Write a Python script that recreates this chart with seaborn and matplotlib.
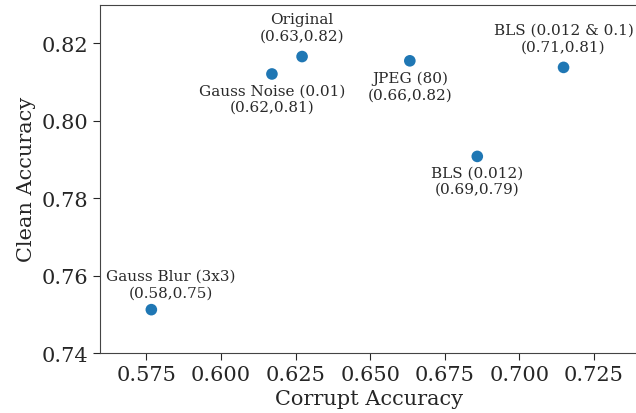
import matplotlib
matplotlib.use("Agg")
import matplotlib.pyplot as plt
import seaborn as sns
import pandas as pd

names = ["Original", "Gauss Noise (0.01)", "JPEG (80)", "BLS (0.012 & 0.1)", "BLS (0.012)", "Gauss Blur (3x3)"]
coord_labels = ["(0.63,0.82)", "(0.62,0.81)", "(0.66,0.82)", "(0.71,0.81)", "(0.69,0.79)", "(0.58,0.75)"]
corrupt_acc = [0.6272, 0.6171, 0.6633, 0.7148, 0.6859, 0.5767]
clean_acc = [0.8166, 0.8121, 0.8155, 0.8138, 0.7908, 0.7512]
label_offsets = [(0, 10), (0, -7), (0, -7), (0, 10), (0, -6.5), (14, 7.5)]

sns.set_style("ticks")
plt.rcParams["font.family"] = ["DejaVu Serif"]

df = pd.DataFrame({"Corrupt Accuracy": corrupt_acc, "Clean Accuracy": clean_acc, "name": names})

fig = plt.figure(figsize=(6.36, 4.14), dpi=100)
ax = fig.add_axes([100/636, 60/414, 1 - 100/636 + 0.002, (354 - 5.7)/414])
sns.scatterplot(data=df, x="Corrupt Accuracy", y="Clean Accuracy", ax=ax, s=70,
                color="#1f77b4", edgecolor="none")

for n, c, x, y, (dx, dy) in zip(names, coord_labels, corrupt_acc, clean_acc, label_offsets):
    va = "bottom" if dy > 0 else "top"
    ax.annotate(f"{n}\n{c}", (x, y), xytext=(dx, dy), textcoords="offset points",
                ha="center", va=va, fontsize=11, color="#2a2a2a", linespacing=1.22)

ax.set_xlim(0.5595, 0.7395)
ax.set_ylim(0.74, 0.83)
ax.set_xticks([0.575, 0.600, 0.625, 0.650, 0.675, 0.700, 0.725])
ax.set_xticklabels(["0.575", "0.600", "0.625", "0.650", "0.675", "0.700", "0.725"])
ax.set_yticks([0.74, 0.76, 0.78, 0.80, 0.82])
ax.set_yticklabels(["0.74", "0.76", "0.78", "0.80", "0.82"])
ax.tick_params(labelsize=15, colors="#262626", length=5)
ax.set_xlabel("Corrupt Accuracy", fontsize=15, color="#262626", labelpad=4)
ax.set_ylabel("Clean Accuracy", fontsize=15, color="#262626", labelpad=4)
for s in ax.spines.values():
    s.set_color("#444444")
ax.spines["right"].set_visible(False)

fig.savefig("out.png", dpi=100)
